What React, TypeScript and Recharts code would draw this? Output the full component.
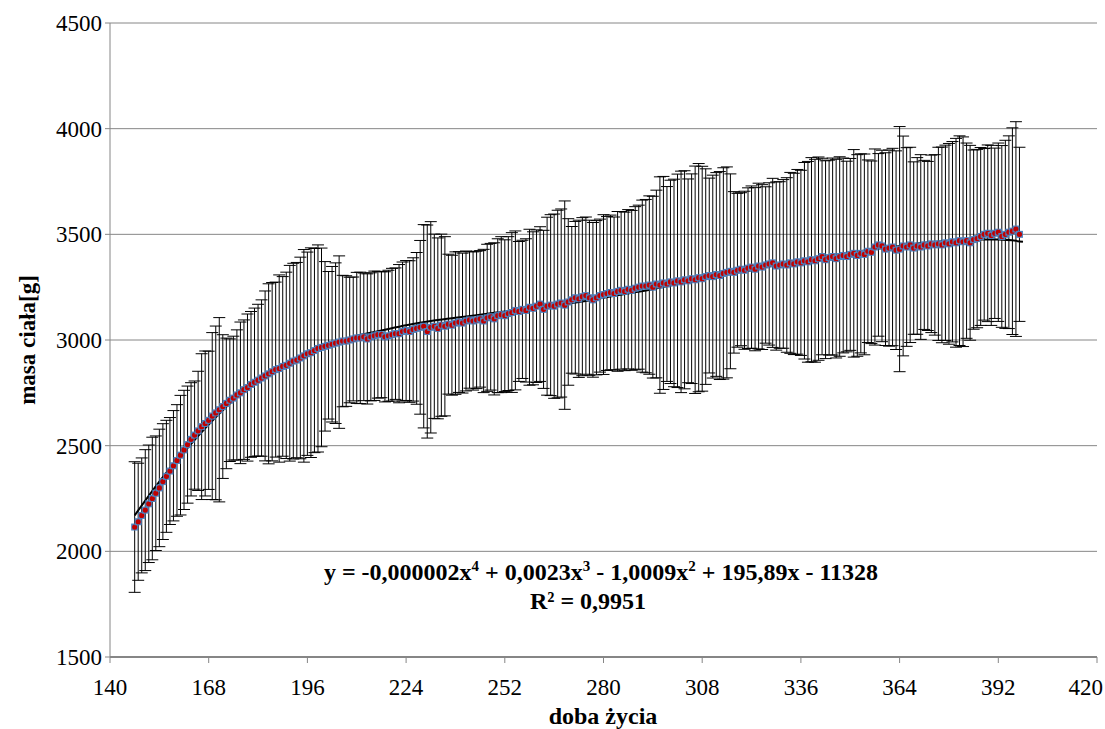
import React from 'react';
import { ComposedChart, Scatter, Line, XAxis, YAxis, CartesianGrid, ErrorBar } from 'recharts';

const days = [
  147, 148, 149, 150, 151, 152, 153, 154, 155, 156, 157, 158, 159, 160,
  161, 162, 163, 164, 165, 166, 167, 168, 169, 170, 171, 172, 173, 174,
  175, 176, 177, 178, 179, 180, 181, 182, 183, 184, 185, 186, 187, 188,
  189, 190, 191, 192, 193, 194, 195, 196, 197, 198, 199, 200, 201, 202,
  203, 204, 205, 206, 207, 208, 209, 210, 211, 212, 213, 214, 215, 216,
  217, 218, 219, 220, 221, 222, 223, 224, 225, 226, 227, 228, 229, 230,
  231, 232, 233, 234, 235, 236, 237, 238, 239, 240, 241, 242, 243, 244,
  245, 246, 247, 248, 249, 250, 251, 252, 253, 254, 255, 256, 257, 258,
  259, 260, 261, 262, 263, 264, 265, 266, 267, 268, 269, 270, 271, 272,
  273, 274, 275, 276, 277, 278, 279, 280, 281, 282, 283, 284, 285, 286,
  287, 288, 289, 290, 291, 292, 293, 294, 295, 296, 297, 298, 299, 300,
  301, 302, 303, 304, 305, 306, 307, 308, 309, 310, 311, 312, 313, 314,
  315, 316, 317, 318, 319, 320, 321, 322, 323, 324, 325, 326, 327, 328,
  329, 330, 331, 332, 333, 334, 335, 336, 337, 338, 339, 340, 341, 342,
  343, 344, 345, 346, 347, 348, 349, 350, 351, 352, 353, 354, 355, 356,
  357, 358, 359, 360, 361, 362, 363, 364, 365, 366, 367, 368, 369, 370,
  371, 372, 373, 374, 375, 376, 377, 378, 379, 380, 381, 382, 383, 384,
  385, 386, 387, 388, 389, 390, 391, 392, 393, 394, 395, 396, 397, 398,
];

const meanWeight = [
  2115, 2140, 2170, 2195, 2225, 2250, 2275, 2300, 2330, 2355, 2380, 2405, 2430, 2455,
  2480, 2505, 2530, 2550, 2570, 2590, 2605, 2620, 2640, 2655, 2670, 2685, 2700, 2715,
  2725, 2740, 2750, 2765, 2775, 2790, 2800, 2810, 2820, 2830, 2840, 2850, 2860, 2865,
  2875, 2880, 2890, 2900, 2905, 2915, 2925, 2935, 2940, 2950, 2960, 2965, 2970, 2975,
  2980, 2985, 2990, 2995, 2995, 3000, 3005, 3010, 3010, 3015, 3005, 3015, 3020, 3025,
  3025, 3015, 3020, 3025, 3030, 3030, 3040, 3045, 3040, 3050, 3055, 3060, 3065, 3040,
  3060, 3065, 3055, 3070, 3065, 3075, 3070, 3080, 3085, 3080, 3090, 3095, 3090, 3095,
  3100, 3090, 3105, 3110, 3100, 3115, 3120, 3115, 3125, 3130, 3140, 3135, 3145, 3140,
  3155, 3150, 3160, 3170, 3145, 3160, 3165, 3160, 3170, 3175, 3165, 3180, 3190, 3200,
  3195, 3205, 3210, 3200, 3190, 3200, 3210, 3215, 3220, 3225, 3220, 3230, 3235, 3230,
  3240, 3235, 3245, 3250, 3255, 3255, 3260, 3250, 3265, 3260, 3270, 3265, 3275, 3270,
  3280, 3275, 3285, 3280, 3290, 3285, 3295, 3290, 3300, 3305, 3300, 3310, 3305, 3315,
  3320, 3325, 3320, 3330, 3335, 3330, 3340, 3345, 3335, 3350, 3345, 3355, 3360, 3365,
  3350, 3355, 3360, 3355, 3365, 3360, 3370, 3365, 3375, 3370, 3380, 3375, 3385, 3395,
  3380, 3390, 3395, 3385, 3395, 3400, 3395, 3405, 3410, 3400, 3410, 3405, 3420, 3415,
  3440, 3450, 3445, 3430, 3435, 3440, 3425, 3430, 3445, 3440, 3450, 3435, 3445, 3440,
  3450, 3445, 3455, 3450, 3455, 3450, 3460, 3455, 3465, 3460, 3470, 3465, 3470, 3460,
  3475, 3480, 3490, 3500, 3505, 3495, 3505, 3510, 3490, 3500, 3510, 3515, 3525, 3500,
];

const sdWeight = [
  309, 277, 272, 286, 278, 290, 271, 278, 274, 265, 253, 261, 264, 283,
  282, 277, 268, 256, 282, 345, 343, 327, 395, 411, 436, 340, 309, 290,
  293, 308, 335, 330, 348, 345, 351, 359, 370, 402, 426, 422, 414, 443,
  425, 441, 463, 463, 462, 477, 503, 481, 496, 483, 490, 470, 401, 349,
  368, 380, 408, 311, 309, 297, 293, 310, 311, 302, 308, 303, 306, 300,
  298, 308, 310, 314, 311, 327, 329, 331, 335, 339, 359, 411, 481, 504,
  500, 436, 428, 431, 424, 331, 331, 337, 333, 331, 331, 323, 327, 325,
  323, 339, 348, 347, 360, 364, 369, 359, 364, 378, 376, 331, 327, 339,
  369, 362, 361, 366, 374, 421, 428, 436, 444, 445, 493, 394, 347, 361,
  372, 374, 372, 367, 366, 365, 362, 378, 364, 366, 362, 378, 373, 375,
  377, 378, 386, 388, 407, 410, 422, 430, 444, 512, 504, 461, 481, 491,
  505, 524, 516, 482, 496, 538, 540, 532, 510, 461, 480, 482, 492, 500,
  499, 461, 382, 364, 362, 374, 380, 384, 386, 392, 390, 370, 384, 400,
  398, 394, 399, 413, 428, 429, 437, 438, 465, 475, 483, 480, 481, 465,
  468, 461, 466, 470, 472, 461, 451, 454, 491, 477, 471, 475, 432, 432,
  464, 432, 453, 456, 464, 467, 470, 580, 520, 470, 462, 408, 418, 437,
  400, 400, 420, 427, 457, 463, 462, 475, 474, 494, 496, 496, 462, 461,
  424, 422, 421, 406, 418, 426, 403, 422, 430, 445, 456, 489, 508, 412,
];

const trendDays = [147, 154, 161, 168, 175, 182, 189, 196, 203, 210, 217, 224, 231, 238, 245, 252, 259, 266, 273, 280, 287, 294, 301, 308, 315, 322, 329, 336, 343, 350, 357, 364, 371, 378, 385, 392, 399];
const trendWeight = [2170, 2330, 2470, 2600, 2715, 2810, 2880, 2940, 2985, 3020, 3045, 3070, 3090, 3105, 3120, 3135, 3150, 3165, 3180, 3200, 3220, 3240, 3265, 3285, 3310, 3330, 3355, 3375, 3395, 3415, 3430, 3445, 3460, 3470, 3475, 3475, 3465];

const xTicks = [140, 168, 196, 224, 252, 280, 308, 336, 364, 392, 420];
const yTicks = [1500, 2000, 2500, 3000, 3500, 4000, 4500];

const xTitle = 'doba życia';
const yTitle = 'masa ciała[g]';
const rSquared = 'R² = 0,9951';

const points = days.map((d, i) => ({ day: d, mean: meanWeight[i], sd: sdWeight[i] }));
const trend = trendDays.map((d, i) => ({ day: d, t: trendWeight[i] }));

const FONT = "'Liberation Serif', 'Times New Roman', serif";
const AXIS = '#868686';
const PAGE_W = 1105;

const Marker = (props: any) => {
  const { cx, cy } = props;
  if (cx == null || cy == null) return null;
  return (
    <g>
      <rect x={cx - 3.5} y={cy - 3.5} width={7} height={7} fill="#4F81BD" />
      <circle cx={cx} cy={cy} r={2.6} fill="#C00000" />
    </g>
  );
};

const XTick = (props: any) => {
  const { x, y, payload } = props;
  const nearEdge = x + 18 > PAGE_W;
  return (
    <text
      x={nearEdge ? PAGE_W - 2 : x}
      y={y}
      dy="0.71em"
      textAnchor={nearEdge ? 'end' : 'middle'}
      fontFamily={FONT}
      fontSize={23}
      fill="#000"
    >
      {payload.value}
    </text>
  );
};

const YTick = (props: any) => {
  const { x, y, payload } = props;
  return (
    <text x={x} y={y} dy="0.355em" textAnchor="end" fontFamily={FONT} fontSize={23} fill="#000">
      {payload.value}
    </text>
  );
};

export default function App() {
  return (
    <div style={{ position: 'fixed', left: 0, top: 0, width: 1105, height: 729, background: '#fff', fontFamily: FONT }}>
      <ComposedChart
        width={1105}
        height={729}
        margin={{ top: 23, right: 8, left: 0, bottom: 0 }}
      >
        <CartesianGrid vertical={false} stroke={AXIS} strokeWidth={1} />
        <XAxis
          type="number"
          dataKey="day"
          domain={[140, 420]}
          ticks={xTicks}
          allowDataOverflow
          height={72}
          tick={<XTick />}
          tickSize={6}
          tickMargin={16}
          axisLine={{ stroke: AXIS, strokeWidth: 2 }}
          tickLine={{ stroke: AXIS }}
        />
        <YAxis
          type="number"
          domain={[1500, 4500]}
          ticks={yTicks}
          allowDataOverflow
          width={110}
          tick={<YTick />}
          tickSize={5}
          tickMargin={3}
          axisLine={{ stroke: AXIS }}
          tickLine={{ stroke: AXIS }}
        />
        <Scatter data={points} dataKey="mean" shape={Marker} isAnimationActive={false}>
          <ErrorBar dataKey="sd" direction="y" width={6} stroke="#000" strokeWidth={1} isAnimationActive={false} />
        </Scatter>
        <Line
          data={trend}
          dataKey="t"
          type="monotone"
          stroke="#000"
          strokeWidth={2}
          dot={false}
          activeDot={false}
          isAnimationActive={false}
        />
      </ComposedChart>
      <svg width={1105} height={729} style={{ position: 'absolute', left: 0, top: 0, pointerEvents: 'none' }}>
        <text
          transform="translate(35,340) rotate(-90)"
          textAnchor="middle"
          fontFamily={FONT}
          fontWeight="bold"
          fontSize={23}
          fill="#000"
        >
          {yTitle}
        </text>
        <text x={603} y={724} textAnchor="middle" fontFamily={FONT} fontWeight="bold" fontSize={24} fill="#000">
          {xTitle}
        </text>
        <text x={601} y={580} textAnchor="middle" fontFamily={FONT} fontWeight="bold" fontSize={24} fill="#000">
          y = -0,000002x<tspan dy={-9} fontSize={15}>4</tspan>
          <tspan dy={9}> + 0,0023x</tspan>
          <tspan dy={-9} fontSize={15}>3</tspan>
          <tspan dy={9}> - 1,0009x</tspan>
          <tspan dy={-9} fontSize={15}>2</tspan>
          <tspan dy={9}> + 195,89x - 11328</tspan>
        </text>
        <text x={588} y={609} textAnchor="middle" fontFamily={FONT} fontWeight="bold" fontSize={24} fill="#000">
          {rSquared}
        </text>
      </svg>
    </div>
  );
}
